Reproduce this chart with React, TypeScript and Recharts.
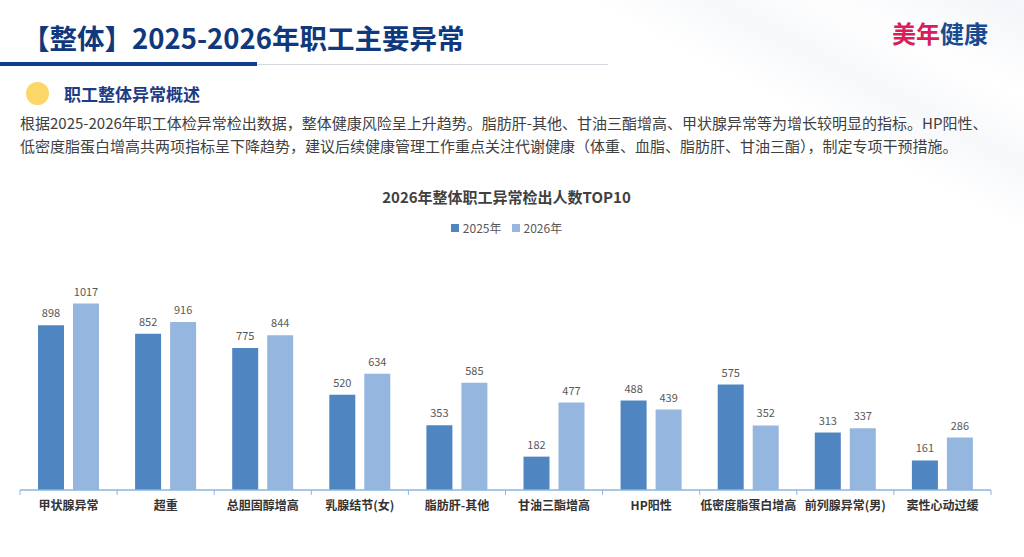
import React from 'react';
import { BarChart, Bar, XAxis, YAxis, LabelList } from 'recharts';

const categories = [
    '甲状腺异常',
    '超重',
    '总胆固醇增高',
    '乳腺结节(女)',
    '脂肪肝-其他',
    '甘油三酯增高',
    'HP阳性',
    '低密度脂蛋白增高',
    '前列腺异常(男)',
    '窦性心动过缓',
];
const values2025 = [898, 852, 775, 520, 353, 182, 488, 575, 313, 161];
const values2026 = [1017, 916, 844, 634, 585, 477, 439, 352, 337, 286];
const seriesNames = ['2025年', '2026年'];

const data = categories.map((name, i) => ({
    name,
    y2025: values2025[i],
    y2026: values2026[i],
}));

const FONT = '"Noto Sans CJK SC", "Noto Sans", sans-serif';
const C2025 = '#4F85C0';
const C2026 = '#95B7DF';
const AXIS = '#8FB4DE';

const CHART_W = 1024;
const M_LEFT = 20;
const M_RIGHT = 33;
const BAND = (CHART_W - M_LEFT - M_RIGHT) / categories.length;

const CategoryTick = (props: any) => {
    const { x, y, payload, index } = props;
    const last = index === categories.length - 1;
    return (
        <g>
            <line x1={x - BAND / 2} x2={x - BAND / 2} y1={y - 8} y2={y - 3} stroke={AXIS} />
            {last && <line x1={x + BAND / 2} x2={x + BAND / 2} y1={y - 8} y2={y - 3} stroke={AXIS} />}
            <text x={x} y={y + 12} textAnchor="middle" fontSize={12} fontWeight={700} fill="#333" fontFamily={FONT}>
                {payload.value}
            </text>
        </g>
    );
};

export default function App() {
    return (
        <div
            style={{
                position: 'absolute',
                left: 0,
                top: 0,
                width: 1024,
                height: 557,
                overflow: 'hidden',
                background: '#fff',
                fontFamily: FONT,
            }}
        >
            {/* faint diagonal streaks in the background */}
            <div style={{ position: 'absolute', left: 250, top: -200, width: 900, height: 160, transform: 'rotate(22deg)', background: 'linear-gradient(180deg, rgba(235,238,244,0) 0%, rgba(236,239,245,0.55) 50%, rgba(235,238,244,0) 100%)' }} />
            <div style={{ position: 'absolute', left: 500, top: 40, width: 800, height: 120, transform: 'rotate(28deg)', background: 'linear-gradient(180deg, rgba(238,241,246,0) 0%, rgba(238,241,246,0.5) 50%, rgba(238,241,246,0) 100%)' }} />

            <div style={{ position: 'absolute', left: 22, top: 18, fontSize: 27.5, fontWeight: 700, color: '#10387C', whiteSpace: 'nowrap', lineHeight: '38px' }}>
                【整体】2025-2026年职工主要异常
            </div>
            <div style={{ position: 'absolute', left: 0, top: 62, width: 257, height: 4, background: '#0F3F8C' }} />
            <div style={{ position: 'absolute', left: 257, top: 64, width: 351, height: 1, background: '#D5D8DE' }} />

            <div style={{ position: 'absolute', left: 892, top: 18, fontSize: 24, fontWeight: 700, whiteSpace: 'nowrap', lineHeight: '30px' }}>
                <span style={{ color: '#D81E5B' }}>美年</span>
                <span style={{ color: '#1B4B8F' }}>健康</span>
            </div>

            <div style={{ position: 'absolute', left: 26, top: 82, width: 23, height: 23, borderRadius: '50%', background: '#FDD66A' }} />
            <div style={{ position: 'absolute', left: 64, top: 82, fontSize: 17, fontWeight: 700, color: '#1E3C86', whiteSpace: 'nowrap', lineHeight: '24px' }}>
                职工整体异常概述
            </div>
            <div style={{ position: 'absolute', left: 20, top: 111, fontSize: 15, color: '#404040', whiteSpace: 'nowrap', lineHeight: '23px' }}>
                根据2025-2026年职工体检异常检出数据，整体健康风险呈上升趋势。脂肪肝-其他、甘油三酯增高、甲状腺异常等为增长较明显的指标。HP阳性、
                <br />
                低密度脂蛋白增高共两项指标呈下降趋势，建议后续健康管理工作重点关注代谢健康（体重、血脂、脂肪肝、甘油三酯），制定专项干预措施。
            </div>

            <div style={{ position: 'absolute', left: 0, width: 1013, top: 186, textAlign: 'center', fontSize: 15, fontWeight: 700, color: '#404040', lineHeight: '22px' }}>
                2026年整体职工异常检出人数TOP10
            </div>
            <div style={{ position: 'absolute', left: 0, width: 1013, top: 219, display: 'flex', justifyContent: 'center', gap: 10, fontSize: 12, color: '#595959', lineHeight: '18px' }}>
                {seriesNames.map((s, i) => (
                    <div key={s} style={{ display: 'flex', alignItems: 'center', gap: 4 }}>
                        <div style={{ width: 8, height: 8, background: i === 0 ? C2025 : C2026 }} />
                        <span>{s}</span>
                    </div>
                ))}
            </div>

            <div style={{ position: 'absolute', left: 0, top: 260 }}>
                <BarChart
                    width={CHART_W}
                    height={297}
                    data={data}
                    margin={{ top: 10, right: M_RIGHT, left: M_LEFT, bottom: 37 }}
                    barSize={26}
                    barGap={9}
                >
                    <XAxis
                        dataKey="name"
                        axisLine={{ stroke: AXIS, strokeWidth: 1.5 }}
                        tickLine={false}
                        interval={0}
                        height={30}
                        tick={<CategoryTick />}
                    />
                    <YAxis hide domain={[0, 1200]} />
                    <Bar dataKey="y2025" name={seriesNames[0]} fill={C2025} isAnimationActive={false}>
                        <LabelList dataKey="y2025" position="top" offset={8} fontSize={11} fill="#595959" fontFamily={FONT} />
                    </Bar>
                    <Bar dataKey="y2026" name={seriesNames[1]} fill={C2026} isAnimationActive={false}>
                        <LabelList dataKey="y2026" position="top" offset={8} fontSize={11} fill="#595959" fontFamily={FONT} />
                    </Bar>
                </BarChart>
            </div>
        </div>
    );
}
